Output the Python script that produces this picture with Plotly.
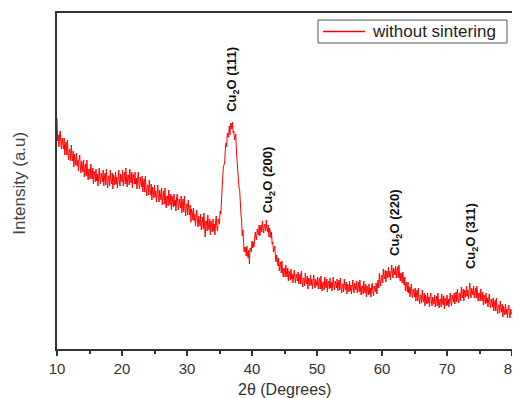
import plotly.graph_objects as go

# 2-theta sampling (degrees), 0.1 step, 10..80
two_theta = [round(10 + 0.1 * i, 1) for i in range(701)]

# Intensity (a.u.), one row per degree (10 values each)
intensity = [
    231, 208, 214, 202, 214, 218, 205, 200, 211, 204,   # 10
    200, 211, 194, 203, 207, 194, 209, 196, 189, 200,   # 11
    199, 188, 204, 193, 188, 198, 182, 195, 191, 184,   # 12
    196, 183, 189, 178, 190, 194, 181, 176, 188, 181,   # 13
    177, 189, 172, 181, 185, 173, 189, 176, 169, 180,   # 14
    180, 170, 185, 175, 170, 181, 165, 178, 175, 167,   # 15
    180, 168, 175, 163, 176, 181, 169, 165, 176, 170,   # 16
    167, 179, 163, 172, 176, 164, 180, 168, 161, 173,   # 17
    173, 163, 179, 169, 165, 176, 160, 174, 171, 164,   # 18
    177, 165, 172, 161, 174, 179, 167, 163, 175, 169,   # 19
    167, 179, 163, 172, 177, 165, 181, 169, 162, 174,   # 20
    174, 164, 180, 170, 166, 177, 161, 175, 172, 165,   # 21
    177, 165, 171, 160, 172, 177, 165, 160, 172, 165,   # 22
    162, 173, 157, 165, 170, 157, 173, 160, 153, 164,   # 23
    164, 154, 169, 159, 154, 165, 149, 162, 159, 151,   # 24
    164, 152, 158, 147, 159, 164, 152, 147, 159, 152,   # 25
    149, 161, 144, 153, 158, 145, 161, 149, 141, 153,   # 26
    153, 143, 159, 148, 144, 155, 139, 153, 149, 142,   # 27
    155, 143, 149, 138, 151, 155, 143, 139, 150, 144,   # 28
    141, 153, 136, 145, 150, 137, 153, 141, 133, 145,   # 29
    145, 134, 149, 139, 134, 144, 127, 140, 137, 129,   # 30
    141, 128, 135, 123, 135, 139, 127, 122, 133, 127,   # 31
    123, 135, 119, 127, 132, 120, 136, 124, 112, 128,   # 32
    128, 118, 134, 123, 119, 130, 114, 128, 124, 117,   # 33
    130, 118, 125, 114, 128, 133, 121, 118, 130, 125,   # 34
    125, 138, 135, 148, 161, 165, 183, 184, 187, 200,   # 35
    206, 202, 216, 212, 212, 223, 214, 226, 225, 220,   # 36
    227, 216, 218, 209, 215, 215, 198, 187, 186, 171,   # 37
    161, 160, 138, 135, 129, 113, 119, 106, 97, 102,    # 38
    101, 93, 103, 95, 91, 99, 85, 101, 100, 97,         # 39
    108, 101, 107, 102, 113, 117, 111, 109, 120, 116,   # 40
    114, 124, 113, 120, 124, 117, 128, 121, 116, 124,   # 41
    125, 118, 129, 121, 117, 124, 112, 121, 118, 111,   # 42
    117, 105, 107, 97, 103, 103, 93, 87, 94, 87,        # 43
    83, 91, 78, 84, 87, 76, 88, 78, 72, 81,             # 44
    80, 72, 84, 76, 72, 81, 68, 78, 76, 69,             # 45
    80, 70, 75, 66, 76, 79, 70, 66, 75, 70,             # 46
    68, 77, 65, 71, 75, 65, 78, 68, 62, 71,             # 47
    71, 63, 76, 68, 65, 73, 60, 71, 69, 63,             # 48
    74, 64, 70, 60, 70, 74, 65, 61, 70, 65,             # 49
    63, 72, 60, 67, 71, 60, 73, 63, 58, 67,             # 50
    67, 59, 72, 64, 61, 70, 57, 68, 66, 60,             # 51
    71, 61, 67, 58, 68, 72, 63, 59, 68, 63,             # 52
    61, 70, 58, 65, 69, 59, 71, 61, 56, 65,             # 53
    65, 57, 70, 62, 59, 67, 55, 65, 63, 57,             # 54
    68, 58, 64, 55, 65, 69, 60, 56, 66, 61,             # 55
    59, 68, 56, 63, 67, 57, 69, 59, 54, 63,             # 56
    63, 55, 68, 59, 56, 65, 52, 63, 60, 54,             # 57
    65, 55, 61, 52, 62, 66, 57, 53, 63, 58,             # 58
    57, 66, 55, 63, 69, 61, 76, 67, 63, 73,             # 59
    74, 66, 80, 72, 70, 79, 67, 78, 76, 71,             # 60
    82, 72, 78, 69, 79, 84, 75, 71, 81, 76,             # 61
    74, 83, 71, 78, 82, 71, 84, 73, 68, 76,             # 62
    75, 66, 77, 68, 64, 72, 58, 67, 64, 57,             # 63
    67, 56, 62, 52, 62, 65, 55, 51, 60, 55,             # 64
    52, 61, 48, 55, 59, 48, 61, 51, 45, 54,             # 65
    54, 46, 59, 50, 47, 56, 43, 54, 51, 45,             # 66
    56, 46, 52, 42, 52, 56, 47, 43, 52, 47,             # 67
    45, 54, 42, 49, 53, 43, 56, 46, 41, 50,             # 68
    50, 42, 55, 47, 44, 53, 40, 51, 49, 43,             # 69
    54, 44, 50, 42, 52, 56, 47, 43, 54, 49,             # 70
    47, 56, 45, 52, 57, 47, 60, 51, 46, 56,             # 71
    56, 48, 62, 54, 51, 60, 48, 59, 57, 52,             # 72
    63, 53, 59, 50, 60, 66, 55, 51, 61, 56,             # 73
    54, 63, 51, 57, 61, 51, 63, 53, 48, 56,             # 74
    56, 48, 60, 52, 48, 57, 44, 54, 52, 45,             # 75
    56, 46, 51, 42, 51, 55, 45, 41, 50, 45,             # 76
    42, 51, 38, 45, 49, 38, 51, 41, 35, 44,             # 77
    44, 36, 48, 40, 37, 45, 32, 43, 40, 34,             # 78
    45, 35, 40, 31, 41, 44, 35, 31, 40, 35,             # 79
    36,                                                 # 80
]

series_name = "without sintering"

peak_labels = ["Cu<sub>2</sub>O (111)", "Cu<sub>2</sub>O (200)",
               "Cu<sub>2</sub>O (220)", "Cu<sub>2</sub>O (311)"]
peak_x = [36.9, 42.5, 62.0, 73.7]
peak_y = [270, 169, 126, 113]

x_ticks = [10, 20, 30, 40, 50, 60, 70, 80]

FONT = "Liberation Sans, Arial, sans-serif"
RED = "#ff0000"

fig = go.Figure()
fig.add_trace(go.Scatter(
    x=two_theta, y=intensity, mode="lines", name=series_name,
    line=dict(color=RED, width=1), showlegend=False,
))

for lab, px, py in zip(peak_labels, peak_x, peak_y):
    fig.add_annotation(x=px, y=py, xref="x", yref="y", text="<b>" + lab + "</b>",
                       textangle=-90, showarrow=False,
                       xanchor="center", yanchor="middle",
                       font=dict(family=FONT, size=13, color="#111"))

# axis titles
fig.add_annotation(x=0.5, y=-0.122, xref="paper", yref="paper",
                   text="2θ (Degrees)", showarrow=False,
                   xanchor="center", yanchor="middle",
                   font=dict(family=FONT, size=16, color="#333"))
fig.add_annotation(x=-0.084, y=0.494, xref="paper", yref="paper",
                   text="Intensity (a.u)", textangle=-90, showarrow=False,
                   xanchor="center", yanchor="middle",
                   font=dict(family=FONT, size=17, color="#444"))

# legend box (drawn as a framed key)
fig.add_shape(type="rect", xref="paper", yref="paper",
              x0=0.5736, x1=0.989, y0=0.9107, y1=0.979,
              line=dict(color="#555", width=1), fillcolor="white")
fig.add_shape(type="line", xref="paper", yref="paper",
              x0=0.5846, x1=0.6769, y0=0.9449, y1=0.9449,
              line=dict(color=RED, width=1.3))
fig.add_annotation(x=0.6879, y=0.9449, xref="paper", yref="paper",
                   text=series_name, showarrow=False,
                   xanchor="left", yanchor="middle",
                   font=dict(family=FONT, size=17, color="#222"))

# page body has an 8px margin; the figure is offset to compensate
fig.update_layout(
    width=520, height=390,
    margin=dict(l=49, r=16, t=5, b=49, autoexpand=False),
    paper_bgcolor="white", plot_bgcolor="white",
    showlegend=False,
    font=dict(family=FONT),
)
fig.update_xaxes(range=[10, 80], tickvals=x_ticks, ticks="outside", ticklen=5,
                 tickwidth=1.5, tickcolor="#333",
                 minor=dict(dtick=5, tick0=10, ticks="outside", ticklen=3,
                            tickwidth=1.5, tickcolor="#333"),
                 showline=True, linecolor="#333", linewidth=1.5, mirror=True,
                 showgrid=False, zeroline=False, ticklabeloverflow="allow",
                 automargin=False,
                 tickfont=dict(family=FONT, size=15, color="#333"))
fig.update_yaxes(range=[0, 336], showticklabels=False, ticks="",
                 showline=True, linecolor="#333", linewidth=1.5, mirror=True,
                 showgrid=False, zeroline=False, automargin=False)

fig.write_html("out.html",
               post_script="document.documentElement.style.overflow='hidden';"
                           "document.body.style.overflow='hidden';")
